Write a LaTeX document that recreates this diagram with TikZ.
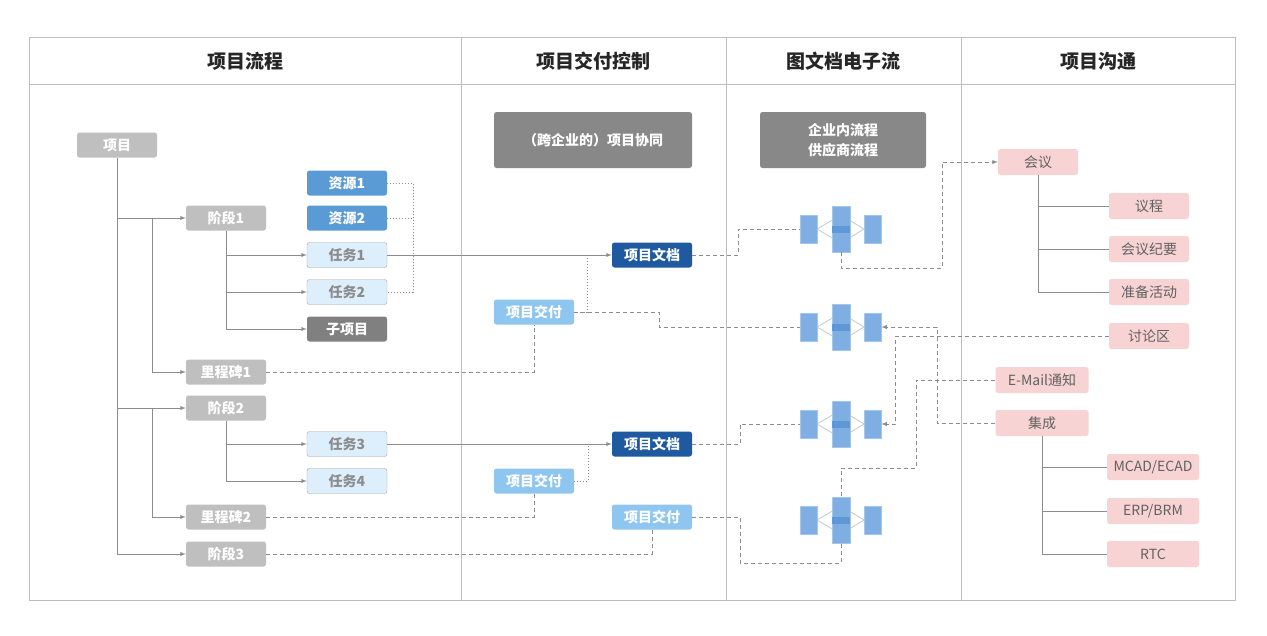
\documentclass[tikz,border=0pt]{standalone}
\usepackage{fontspec}
\setmainfont{Noto Sans CJK SC}
\usetikzlibrary{arrows}
\definecolor{gbox}{HTML}{BFBFBF}
\definecolor{res}{HTML}{5B9BD5}
\definecolor{task}{HTML}{DDEFFD}
\definecolor{sub}{HTML}{808080}
\definecolor{doc}{HTML}{1F5AA0}
\definecolor{dlv}{HTML}{8EC6F0}
\definecolor{hbox}{HTML}{888888}
\definecolor{pink}{HTML}{F8D3D3}
\definecolor{ico}{HTML}{7EAEE2}
\definecolor{icod}{HTML}{5F98D8}
\definecolor{lin}{HTML}{8C8C8C}
\definecolor{frm}{HTML}{BDBDBD}
\begin{document}
\begin{tikzpicture}[x=1pt, y=-1pt, >=latex]
\tikzstyle{bx}=[rounded corners=2.5pt, minimum width=80pt, minimum height=25pt, inner sep=0pt, font=\fontsize{14}{16}\selectfont\bfseries, text=white]
\tikzstyle{gr}=[bx, fill=gbox]
\tikzstyle{rs}=[bx, fill=res]
\tikzstyle{tk}=[bx, fill=task, draw=lin!80, text=lin]
\tikzstyle{sp}=[bx, fill=sub]
\tikzstyle{dc}=[bx, fill=doc]
\tikzstyle{dl}=[bx, fill=dlv]
\tikzstyle{hb}=[bx, fill=hbox, minimum height=56pt, align=center, font=\fontsize{14}{20}\selectfont\bfseries]
\tikzstyle{pk}=[bx, fill=pink, minimum height=26pt, font=\fontsize{14}{16}\selectfont, text=black!62]
\tikzstyle{hd}=[font=\fontsize{19}{21}\selectfont\bfseries, text=black!85]
\tikzstyle{ln}=[draw=lin, line width=0.9pt]
\tikzstyle{ds}=[draw=lin, line width=0.9pt, dash pattern=on 4pt off 3pt]
\tikzstyle{dt}=[draw=lin, line width=0.9pt, dash pattern=on 1.2pt off 1.8pt]
\tikzstyle{ib}=[fill=ico, draw=ico!70, line width=0.6pt, inner sep=0pt]
\useasboundingbox (0,0) rectangle (1267,635);

% frame
\draw[frm, line width=1pt] (29,37) rectangle (1235,600);
\draw[frm, line width=1pt] (29,84) -- (1235,84);
\draw[frm, line width=1pt] (461,37) -- (461,600);
\draw[frm, line width=1pt] (726,37) -- (726,600);
\draw[frm, line width=1pt] (961,37) -- (961,600);

\node[hd] (H1) at (245,61) {项目流程};
\node[hd] (H2) at (593,61) {项目交付控制};
\node[hd] (H3) at (843,61) {图文档电子流};
\node[hd] (H4) at (1098,61) {项目沟通};

% project tree
\node[gr] (P) at (117,145) {项目};
\node[gr] (S1) at (226,218) {阶段1};
\node[rs] (R1) at (347,183) {资源1};
\node[rs] (R2) at (347,218) {资源2};
\node[tk] (T1) at (347,255) {任务1};
\node[tk] (T2) at (347,292) {任务2};
\node[sp] (SP) at (347,329) {子项目};
\node[gr] (M1) at (226,372) {里程碑1};
\node[gr] (S2) at (226,408) {阶段2};
\node[tk] (T3) at (347,444) {任务3};
\node[tk] (T4) at (347,481) {任务4};
\node[gr] (M2) at (226,517) {里程碑2};
\node[gr] (S3) at (226,554) {阶段3};

\coordinate (C1) at (152,218);
\coordinate (C2) at (152,408);
\draw[ln,->] (P.south) |- (S3.west);
\draw[ln,->] (P.south |- S1.west) -- (S1.west);
\draw[ln,->] (P.south |- S2.west) -- (S2.west);
\draw[ln,->] (C1) |- (M1.west);
\draw[ln,->] (C2) |- (M2.west);
\draw[ln,->] (S1.south) |- (T1.west);
\draw[ln,->] (S1.south) |- (T2.west);
\draw[ln,->] (S1.south) |- (SP.west);
\draw[ln,->] (S2.south) |- (T3.west);
\draw[ln,->] (S2.south) |- (T4.west);

\draw[dt] (R1.east) -- ++(26,0) |- (T2.east);
\draw[dt] (R2.east) -- ++(26,0);
\draw[dt] (T1.east) -- ++(26,0);

% delivery control
\node[hb, minimum width=198pt] (HB1) at (593,140) {（跨企业的）项目协同};
\node[dc] (D1) at (652,255) {项目文档};
\node[dl] (J1) at (534,312) {项目交付};
\node[dc] (D2) at (652,444) {项目文档};
\node[dl] (J2) at (534,481) {项目交付};
\node[dl] (J3) at (652,517) {项目交付};

\coordinate (K1) at (587,255);
\coordinate (K2) at (588,444);
\draw[ln,->] (T1.east) -- (D1.west);
\draw[ln,->] (T3.east) -- (D2.west);
\draw[dt] (J1.east) -| (K1);
\draw[dt] (J2.east) -| (K2);
\draw[ds] (M1.east) -| (J1.south);
\draw[ds] (M2.east) -| (J2.south);
\draw[ds] (S3.east) -| (J3.south);

% document flow icons
\node[hb, minimum width=166pt] (HB2) at (843,140) {企业内流程\\供应商流程};
\foreach \y/\n in {229/1,327/2,424/3,520/4}{
  \draw[black!20, line width=0.9pt] (817,\y) -- (841,\y-14) -- (864,\y) -- (841,\y+14) -- cycle;
  \node[ib, minimum width=17pt, minimum height=28pt] (I\n L) at (808.5,\y) {};
  \node[ib, minimum width=17pt, minimum height=28pt] (I\n R) at (872.5,\y) {};
  \node[ib, minimum width=18pt, minimum height=46pt] (I\n C) at (841,\y) {};
  \fill[icod] (I\n C.west |- 0,\y-3.5) rectangle (I\n C.east |- 0,\y+3.5);
}

\draw[ds] (J1.east) -- ++(85,0) |- (I2L.west);
\draw[ds] (D1.east) -- ++(46,0) |- (I1L.west);
\draw[ds] (D2.east) -- ++(48,0) |- (I3L.west);
\draw[ds] (J3.east) -- ++(48,0) -- ++(0,46) -| (I4C.south);

% communication
\node[pk] (HY) at (1038,162) {会议};
\node[pk] (YC) at (1149,206) {议程};
\node[pk] (JY) at (1149,249) {会议纪要};
\node[pk] (ZB) at (1149,292) {准备活动};
\node[pk] (TL) at (1149,336) {讨论区};
\node[pk, minimum width=93pt] (EM) at (1042,380) {E-Mail通知};
\node[pk, minimum width=93pt] (JC) at (1042,423) {集成};
\node[pk, minimum width=92pt] (MC) at (1153,467) {MCAD/ECAD};
\node[pk, minimum width=92pt] (EB) at (1153,511) {ERP/BRM};
\node[pk, minimum width=92pt] (RT) at (1153,554) {RTC};

\draw[ln] (HY.south) |- (YC.west);
\draw[ln] (HY.south) |- (JY.west);
\draw[ln] (HY.south) |- (ZB.west);
\draw[ln] (JC.south) |- (MC.west);
\draw[ln] (JC.south) |- (EB.west);
\draw[ln] (JC.south) |- (RT.west);

\draw[ds,->] (I1C.south) -- ++(0,16) -- ++(101,0) |- (HY.west);
\draw[ds,->] (TL.west) -- ++(-213,0) |- (I3R.east);
\draw[ds,->] (JC.west) -- ++(-58,0) |- (I2R.east);
\draw[ds] (EM.west) -- ++(-79,0) -- ++(0,88) -| (I4C.north);
\end{tikzpicture}
\end{document}
